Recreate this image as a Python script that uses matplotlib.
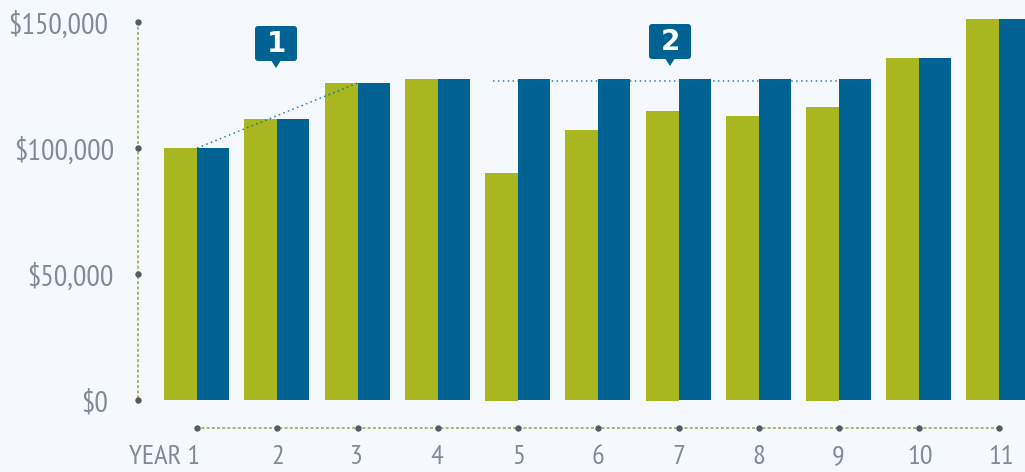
import matplotlib
matplotlib.use("Agg")
import matplotlib.pyplot as plt
from matplotlib.patches import FancyBboxPatch, Polygon
from matplotlib.transforms import Affine2D, IdentityTransform
import numpy as np

years = ["YEAR 1", "2", "3", "4", "5", "6", "7", "8", "9", "10", "11"]
green_vals = [100000, 111500, 125800, 127400, 90000, 107100, 114700, 112700, 116300, 135700, 151200]
blue_vals = [100000, 111500, 125800, 127400, 127400, 127400, 127400, 127400, 127400, 135700, 151200]
green_dip = [0, 0, 0, 0, -400, 0, -400, 0, -400, 0, 0]
y_ticks = [0, 50000, 100000, 150000]
y_labels = ["$0", "$50,000", "$100,000", "$150,000"]
trend_level = 126600

BG, GREEN, BLUE = "#f5f9fe", "#a8b61f", "#006394"
TXT, DOT = "#808b93", "#555d63"
W, H = 1025, 472
X0, DX = 197.2, 80.22      # px of first category, px per category
Y0, PXV = 400.0, 378.0 / 150000
AX_L, AX_B = 138.0, 428.0  # px of the two dotted axes

plt.rcParams["font.family"] = ["PT Sans Narrow", "Liberation Sans", "DejaVu Sans"]
fig = plt.figure(figsize=(W / 100, H / 100), dpi=100, facecolor=BG)
ax = fig.add_axes([AX_L / W, (H - AX_B) / H, 1 - AX_L / W, AX_B / H], facecolor=BG)
ax.set_xlim((AX_L - X0) / DX, (W - X0) / DX)
ax.set_ylim(-(AX_B - Y0) / PXV, Y0 / PXV)

x = np.arange(len(years))
bw_g, bw_b = 33 / DX, 32 / DX
g = np.array(green_vals); d = np.array(green_dip)
ax.bar(x - bw_g, g - d, width=bw_g, bottom=d, align="edge", color=GREEN, zorder=2)
ax.bar(x, blue_vals, width=bw_b, align="edge", color=BLUE, zorder=2)

# dotted trend lines
tr = dict(color="#0a6aa0", alpha=0.85, lw=1.1, ls=(0, (1, 2.2)), zorder=3)
ax.plot([x[0], x[2]], [blue_vals[0], blue_vals[2]], **tr)
ax.plot([(493 - X0) / DX, (871 - X0) / DX], [trend_level, trend_level], **tr)

# axes
for s in ("top", "right"):
    ax.spines[s].set_visible(False)
ax.spines["left"].set_bounds(-1200, 150000)
ax.spines["bottom"].set_bounds(x[0], x[-1])
for s in ("left", "bottom"):
    ax.spines[s].set_color("#8fa84a")
    ax.spines[s].set_linewidth(1.1)
    ax.spines[s].set_linestyle((0, (1, 2.4)))
    ax.spines[s].set_zorder(1)
ax.plot(np.zeros(len(y_ticks)), y_ticks, "o", color=DOT, ms=4.6, mew=0,
        transform=ax.get_yaxis_transform(), clip_on=False, zorder=4)
ax.plot(x, np.zeros(len(x)), "o", color=DOT, ms=4.6, mew=0,
        transform=ax.get_xaxis_transform(), clip_on=False, zorder=4)

ax.set_xticks(x, years)
ax.set_yticks(y_ticks, y_labels)
ax.tick_params(length=0, labelcolor=TXT)
ax.tick_params(axis="y", pad=21, labelsize=21.6)
ax.tick_params(axis="x", pad=12, labelsize=20.4)

# fine placement of tick labels (px right, px up)
ydx = [-1, 5, 5, -1]
for lab, dx_ in zip(ax.get_yticklabels(), ydx):
    lab.set_transform(lab.get_transform() + Affine2D().translate(dx_, -1))
xdx = [3, 0, -1, -1, 0, 0, 0, 0, -1, 1, 2]
for i, (lab, dx_) in enumerate(zip(ax.get_xticklabels(), xdx)):
    if i == 0:
        lab.set_ha("right")
    lab.set_transform(lab.get_transform() + Affine2D().translate(dx_, 0))

# callouts (pixel placed)
def badge(left, top, txt):
    w, h = 42, 35
    tf = IdentityTransform()
    fig.add_artist(FancyBboxPatch((left + 2, H - top - h + 2), w - 4, h - 4,
                                  boxstyle="round,pad=2,rounding_size=3",
                                  fc=BLUE, ec="none", transform=tf))
    cx = left + w / 2
    fig.add_artist(Polygon([(cx - 4.5, H - top - h), (cx + 4.5, H - top - h), (cx, H - top - h - 7)],
                           closed=True, fc=BLUE, ec="none", transform=tf))
    fig.text((cx) / W, (H - top - h / 2) / H, txt, color="white", fontsize=20, fontweight="bold",
             family="DejaVu Sans", ha="center", va="center")

badge(255, 26, "1")
badge(649, 24, "2")

fig.savefig("out.png", dpi=100, facecolor=BG)
